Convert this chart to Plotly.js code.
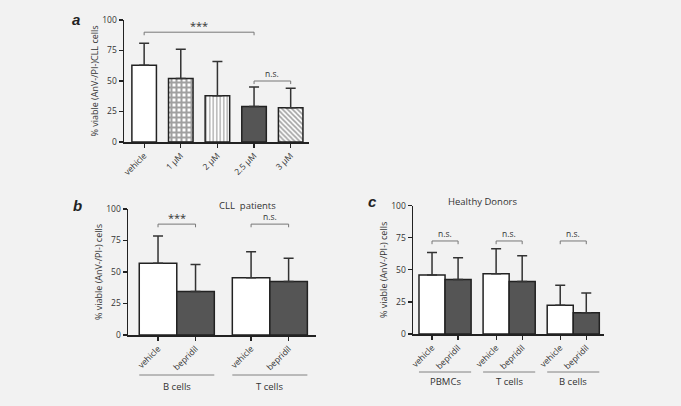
<!DOCTYPE html>
<html>
<head>
<meta charset="utf-8">
<script src="https://cdn.plot.ly/plotly-3.0.1.min.js"></script>
<style>html,body{margin:0;padding:0;background:#f2f2f2;}#chart{width:681px;height:406px;}</style>
</head>
<body>
<div id="chart"></div>
<script>
// ---------- DATA ----------
// Panel a
const aCategories = ['vehicle', '1 μM', '2 μM', '2.5 μM', '3 μM'];
const aMeans = [63, 52, 38, 29, 28];
const aErrors = [18, 24, 28, 16, 16];
const aBrackets = [[0, 3, 90, '***'], [3, 4, 50, 'n.s.']];

// Panel b (CLL patients)
const bGroups = ['B cells', 'T cells'];
const bTreatments = ['vehicle', 'bepridil'];
const bVehicleMeans = [57, 45.5];
const bVehicleErrors = [21.5, 20.5];
const bBepridilMeans = [34.5, 42.5];
const bBepridilErrors = [21.5, 18.5];
const bBracketLabels = ['***', 'n.s.'];
const bBracketHeights = [88, 88];

// Panel c (Healthy donors)
const cGroups = ['PBMCs', 'T cells', 'B cells'];
const cTreatments = ['vehicle', 'bepridil'];
const cVehicleMeans = [46, 47, 22.5];
const cVehicleErrors = [17.5, 19.5, 15.5];
const cBepridilMeans = [42.5, 41, 16.5];
const cBepridilErrors = [17, 20, 15.5];
const cBracketLabels = ['n.s.', 'n.s.', 'n.s.'];
const cBracketHeights = [72.5, 72.5, 72.5];

// ---------- STYLE ----------
const W = 681, H = 406;
const FONT = 'Open Sans, DejaVu Sans, sans-serif';
const TXT = '#333333';
const OUTLINE = '#222222';
const DARK = '#555555';
const px = v => v / W;
const py = v => 1 - v / H;

const traces = [];
const shapes = [];
const annotations = [];

function errBar(arr) {
  return {type: 'data', symmetric: false, array: arr, arrayminus: arr.map(() => 0),
          color: '#333333', thickness: 1.5, width: 5};
}

// Panel a
const aX = aCategories.map((_, i) => i);
const aFill = ['#ffffff', '#ffffff', '#ffffff', DARK, '#ffffff'];
const aPattern = ['', '+', '|', '', '\\'];
traces.push({
  type: 'bar', x: aX, y: aMeans, width: 0.67, xaxis: 'x', yaxis: 'y',
  marker: {color: aFill, line: {color: OUTLINE, width: 1.5},
           pattern: {shape: aPattern, fgcolor: '#000000', bgcolor: '#ffffff', size: [4, 5, 3.5, 4, 3.5], solidity: [0.3, 0.65, 0.35, 0.3, 0.45], fillmode: 'overlay'}},
  error_y: errBar(aErrors), hoverinfo: 'none', showlegend: false
});
aBrackets.forEach(([i, j, h, t]) => {
  shapes.push({type: 'path', xref: 'x', yref: 'y', path: `M ${aX[i]},${h - 2.5} L ${aX[i]},${h} L ${aX[j]},${h} L ${aX[j]},${h - 2.5}`,
               line: {color: '#777777', width: 1}});
  annotations.push({xref: 'x', yref: 'y', x: (aX[i] + aX[j]) / 2, y: h, yanchor: 'bottom', yshift: t === '***' ? -3 : 0,
                    text: t, showarrow: false, font: {family: FONT, size: t === '***' ? 11 : 8.5, color: TXT}});
});

// Grouped panels helper
function grouped(xa, ya, groups, treatments, vm, ve, bm, be, gap, brLabels, brHeights, lineY, labelY) {
  const step = 2 + gap;
  const vx = groups.map((_, g) => g * step);
  const bx = groups.map((_, g) => g * step + 1);
  traces.push({type: 'bar', x: vx, y: vm, width: 1, xaxis: xa, yaxis: ya,
               marker: {color: '#ffffff', line: {color: OUTLINE, width: 1.5}},
               error_y: errBar(ve), hoverinfo: 'none', showlegend: false});
  traces.push({type: 'bar', x: bx, y: bm, width: 1, xaxis: xa, yaxis: ya,
               marker: {color: DARK, line: {color: OUTLINE, width: 1.5}},
               error_y: errBar(be), hoverinfo: 'none', showlegend: false});
  const ticks = [], texts = [];
  groups.forEach((g, k) => {
    ticks.push(vx[k], bx[k]); texts.push(treatments[0], treatments[1]);
    const h = brHeights[k];
    shapes.push({type: 'path', xref: xa, yref: ya, path: `M ${vx[k]},${h - 2.5} L ${vx[k]},${h} L ${bx[k]},${h} L ${bx[k]},${h - 2.5}`,
                 line: {color: '#777777', width: 1}});
    annotations.push({xref: xa, yref: ya, x: (vx[k] + bx[k]) / 2, y: h, yanchor: 'bottom', yshift: brLabels[k] === '***' ? -3 : 0,
                      text: brLabels[k], showarrow: false, font: {family: FONT, size: brLabels[k] === '***' ? 11 : 8.5, color: TXT}});
    shapes.push({type: 'line', xref: xa, yref: 'paper', x0: vx[k] - 0.5, x1: bx[k] + 0.5, y0: py(lineY), y1: py(lineY),
                 line: {color: '#666666', width: 0.8}});
    annotations.push({xref: xa, yref: 'paper', x: (vx[k] + bx[k]) / 2, y: py(labelY), yanchor: 'middle',
                      text: g, showarrow: false, font: {family: FONT, size: 9.5, color: TXT}});
  });
  return {ticks, texts};
}

const bT = grouped('x2', 'y2', bGroups, bTreatments, bVehicleMeans, bVehicleErrors, bBepridilMeans, bBepridilErrors, 0.48, bBracketLabels, bBracketHeights, 375, 386);
const cT = grouped('x3', 'y3', cGroups, cTreatments, cVehicleMeans, cVehicleErrors, cBepridilMeans, cBepridilErrors, 0.46, cBracketLabels, cBracketHeights, 372, 381);

// Axis styles
function xAxis(domain, range, tickvals, ticktext, anchor) {
  return {domain, range, tickvals, ticktext, anchor, tickangle: -45, showgrid: false, zeroline: false,
          showline: true, linecolor: OUTLINE, linewidth: 1.5, ticks: 'outside', ticklen: 4, tickwidth: 1.2, tickcolor: OUTLINE,
          tickfont: {family: FONT, size: 8.5, color: TXT}, fixedrange: true};
}
function yAxis(domain, anchor, title, standoff) {
  return {domain, anchor, range: [0, 100], tickvals: [0, 25, 50, 75, 100], showgrid: false, zeroline: false,
          showline: true, linecolor: OUTLINE, linewidth: 1.5, ticks: 'outside', ticklen: 4, tickwidth: 1.2, tickcolor: OUTLINE,
          tickfont: {family: FONT, size: 8.5, color: TXT},
          title: {text: title, font: {family: FONT, size: 9, color: TXT}, standoff}, fixedrange: true};
}

const layout = {
  width: W, height: H, margin: {l: 0, r: 0, t: 0, b: 0},
  paper_bgcolor: '#f2f2f2', plot_bgcolor: 'rgba(0,0,0,0)', showlegend: false, barmode: 'overlay',
  xaxis: xAxis([px(124), px(309)], [-0.55, 4.5], aX, aCategories, 'y'),
  yaxis: yAxis([py(142), py(20)], 'x', '% viable (AnV-/PI-)CLL cells', 2),
  xaxis2: xAxis([px(128), px(316)], [-0.8, 4.21], bT.ticks, bT.texts, 'y2'),
  yaxis2: yAxis([py(335), py(209)], 'x2', '% viable (AnV-/PI-) cells', 2),
  xaxis3: xAxis([px(413), px(604)], [-0.73, 6.6], cT.ticks, cT.texts, 'y3'),
  yaxis3: yAxis([py(334), py(205.7)], 'x3', '% viable (AnV-/PI-) cells', 2),
  shapes,
  annotations: annotations.concat([
    {xref: 'paper', yref: 'paper', x: px(76), y: py(19), xanchor: 'center', yanchor: 'middle', text: '<b><i>a</i></b>', showarrow: false, font: {family: 'Liberation Sans, Arial, sans-serif', size: 15, color: '#222'}},
    {xref: 'paper', yref: 'paper', x: px(77), y: py(205), xanchor: 'center', yanchor: 'middle', text: '<b><i>b</i></b>', showarrow: false, font: {family: 'Liberation Sans, Arial, sans-serif', size: 15, color: '#222'}},
    {xref: 'paper', yref: 'paper', x: px(372), y: py(202), xanchor: 'center', yanchor: 'middle', text: '<b><i>c</i></b>', showarrow: false, font: {family: 'Liberation Sans, Arial, sans-serif', size: 15, color: '#222'}},
    {xref: 'paper', yref: 'paper', x: px(217), y: py(205), text: 'CLL  patients', showarrow: false, font: {family: FONT, size: 9.5, color: TXT}},
    {xref: 'paper', yref: 'paper', x: px(519), y: py(201), text: 'Healthy Donors', showarrow: false, font: {family: FONT, size: 9.5, color: TXT}}
  ])
};

Plotly.newPlot('chart', traces, layout, {staticPlot: true, displayModeBar: false});
</script>
</body>
</html>
